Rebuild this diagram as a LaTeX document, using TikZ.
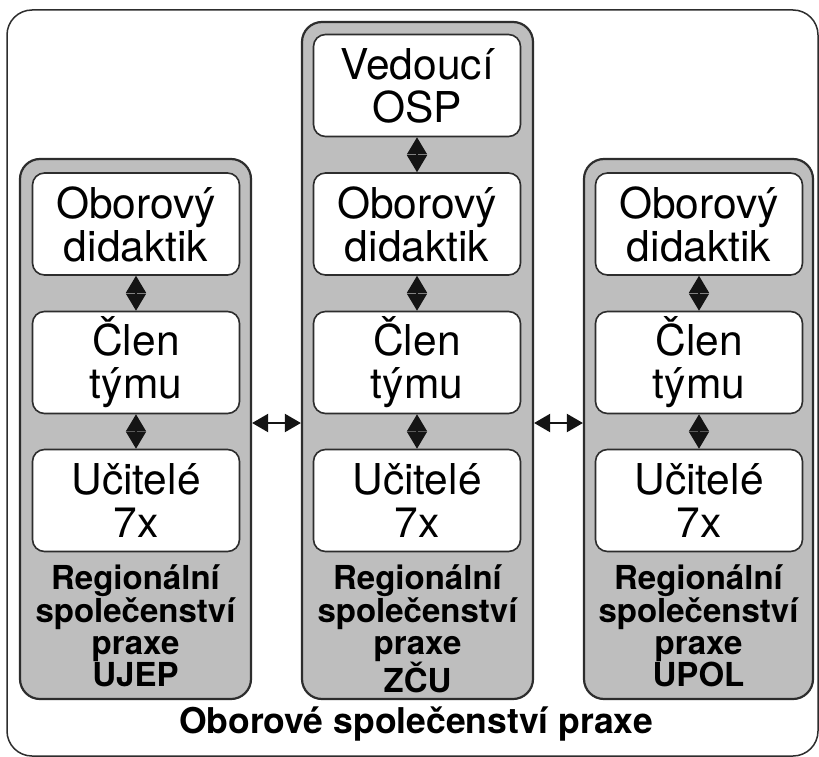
\documentclass[tikz,border=0pt]{standalone}
\usepackage{fontspec}
\setmainfont{TeX Gyre Heros}
\usetikzlibrary{arrows.meta}
\definecolor{edge}{RGB}{45,45,45}
\definecolor{tipc}{RGB}{20,20,20}
\definecolor{panel}{RGB}{190,190,190}
\begin{document}
\begin{tikzpicture}[x=1pt,y=-1pt,
  outerbox/.style={draw=edge, line width=1.5pt, rounded corners=25pt, fill=white, inner sep=0pt},
  column/.style={draw=edge, line width=2.2pt, rounded corners=20pt, fill=panel, inner sep=0pt, minimum width=231pt},
  role/.style={draw=edge, line width=1.6pt, fill=white, rounded corners=12pt, minimum width=207pt, minimum height=102pt, inner sep=0pt, align=center, font=\fontsize{42.5}{43}\selectfont},
  regional/.style={align=center, inner sep=0pt, anchor=north, font=\bfseries\fontsize{33}{32}\selectfont},
  maintitle/.style={inner sep=0pt, anchor=base, font=\bfseries\fontsize{35.5}{36}\selectfont},
  link/.style={draw=tipc, line width=1.2pt, arrows={Triangle[width=20pt,length=17pt,fill=tipc]-Triangle[width=20pt,length=17pt,fill=tipc]}},
  bridge/.style={draw=tipc, line width=2pt, arrows={Triangle[width=18pt,length=16pt,fill=tipc]-Triangle[width=18pt,length=16pt,fill=tipc]}}
]
\useasboundingbox (0,0) rectangle (819,757);
\fill[white] (0,0) rectangle (819,757);
% outer community
\node[outerbox, minimum width=811pt, minimum height=746pt] (osp) at (412.5,383) {};
\node[maintitle] (osptitle) at (416,733) {Oborové společenství praxe};
% columns
\node[column, minimum height=540pt] (colL) at (135.5,429) {};
\node[column, minimum height=677pt] (colM) at (417.5,360.5) {};
\node[column, minimum height=540pt, minimum width=229pt] (colR) at (698.5,429) {};
% left column
\node[role] (lA) at (136,224) {Oborový\\didaktik};
\node[role] (lB) at (136,362.5) {Člen\\týmu};
\node[role] (lC) at (136,500.5) {Učitelé\\7x};
\node[regional] (lT) at (135.5,564) {Regionální\\společenství\\praxe\\UJEP};
% middle column
\node[role] (m0) at (417,85.5) {Vedoucí\\OSP};
\node[role] (mA) at (417,224) {Oborový\\didaktik};
\node[role] (mB) at (417,362.5) {Člen\\týmu};
\node[role] (mC) at (417,500.5) {Učitelé\\7x};
\node[regional] (mT) at (417.5,564) {Regionální\\společenství\\praxe\\ZČU};
% right column
\node[role] (rA) at (699,224) {Oborový\\didaktik};
\node[role] (rB) at (699,362.5) {Člen\\týmu};
\node[role] (rC) at (699,500.5) {Učitelé\\7x};
\node[regional] (rT) at (698.5,564) {Regionální\\společenství\\praxe\\UPOL};
% vertical links
\draw[link] (lA.south) -- (lB.north);
\draw[link] (lB.south) -- (lC.north);
\draw[link] (m0.south) -- (mA.north);
\draw[link] (mA.south) -- (mB.north);
\draw[link] (mB.south) -- (mC.north);
\draw[link] (rA.south) -- (rB.north);
\draw[link] (rB.south) -- (rC.north);
% horizontal links
\draw[bridge] (colL.east |- 0,423) -- (colM.west |- 0,423);
\draw[bridge] (colM.east |- 0,423) -- (colR.west |- 0,423);
\end{tikzpicture}
\end{document}
